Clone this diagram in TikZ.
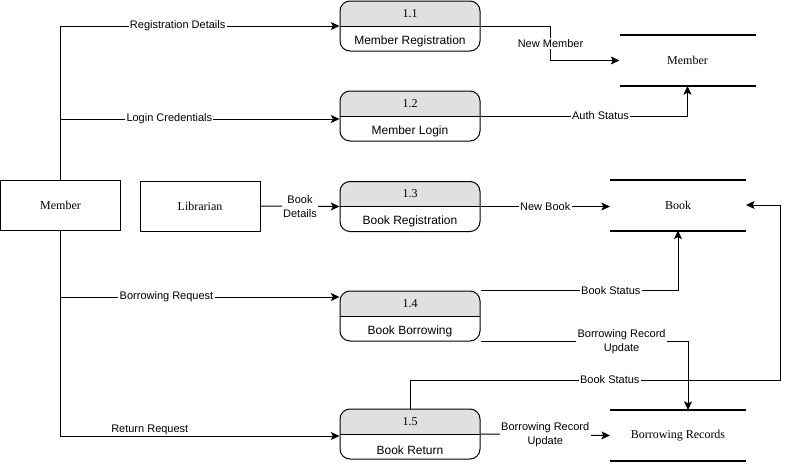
\documentclass[tikz,border=0pt]{standalone}
\usepackage{fontspec}
\setmainfont{Liberation Serif}
\setsansfont{Liberation Sans}
\usetikzlibrary{positioning, arrows.meta}
\definecolor{hdrgray}{HTML}{E0E0E0}

\begin{document}
\begin{tikzpicture}[x=0.75pt,y=-0.75pt,line width=0.75pt,
	ent/.style={draw,minimum width=90pt,minimum height=37.5pt,font=\fontsize{9}{10}\selectfont},
	proc/.style={draw,rounded corners=7.5pt,minimum width=105pt,minimum height=37.5pt,
		path picture={\fill[hdrgray,sharp corners] (path picture bounding box.north west) rectangle (path picture bounding box.east);
			\draw[sharp corners] (path picture bounding box.west) -- (path picture bounding box.east);}},
	pnum/.style={font=\fontsize{9}{10}\selectfont},
	pname/.style={font=\sffamily\fontsize{9}{10}\selectfont},
	store/.style={minimum width=101.25pt,minimum height=37.5pt,font=\fontsize{9}{10}\selectfont},
	storeline/.style={line width=1.5pt},
	lbl/.style={fill=white,inner sep=1pt,font=\sffamily\fontsize{8.25}{10.5}\selectfont,align=center},
	flow/.style={-{Stealth[length=6.5pt,width=6pt,inset=1.5pt]}}]
	\useasboundingbox (0,0) rectangle (790,464);

	% external entities
	\node (me) at (60.5,205) [ent] {Member};
	\node (li) at (200,206) [ent] {Librarian};

	% processes
	\node (p11) at (410,26) [proc] {};
	\node (p12) at (410,116) [proc] {};
	\node (p13) at (410,206.5) [proc] {};
	\node (p14) at (410,316) [proc] {};
	\node (p15) at (410,434) [proc] {};

	\node[pnum] (p11num) [node distance=3pt,below=of p11.north] {1.1};
	\node[pnum] (p12num) [node distance=3pt,below=of p12.north] {1.2};
	\node[pnum] (p13num) [node distance=3pt,below=of p13.north] {1.3};
	\node[pnum] (p14num) [node distance=3pt,below=of p14.north] {1.4};
	\node[pnum] (p15num) [node distance=3pt,below=of p15.north] {1.5};

	\node[pname] (p11name) [node distance=0pt,above=of p11.south] {Member Registration};
	\node[pname] (p12name) [node distance=0pt,above=of p12.south] {Member Login};
	\node[pname] (p13name) [node distance=0pt,above=of p13.south] {Book Registration};
	\node[pname] (p14name) [node distance=0pt,above=of p14.south] {Book Borrowing};
	\node[pname] (p15name) [node distance=0pt,above=of p15.south] {Book Return};

	% data stores
	\node (ms) at (687.5,60.5) [store] {Member};
	\node (bs) at (678,205) [store] {Book};
	\node (br) at (678,435.5) [store] {Borrowing Records};
	\draw[storeline] (ms.north west) -- (ms.north east);
	\draw[storeline] (ms.south west) -- (ms.south east);
	\draw[storeline] (bs.north west) -- (bs.north east);
	\draw[storeline] (bs.south west) -- (bs.south east);
	\draw[storeline] (br.north west) -- (br.north east);
	\draw[storeline] (br.south west) -- (br.south east);

	% flows from the member
	\coordinate (mlogin) at (60.5,119);
	\coordinate (mborrow) at (60.5,297);
	\coordinate (mreturn) at (60.5,436);
	\draw[flow] (me.north) |- node[lbl,pos=0.71] {Registration Details} (p11.west);
	\draw[flow] (mlogin) -- node[lbl,pos=0.39] {Login Credentials} (mlogin -| p12.west);
	\draw[flow] (mborrow) -- node[lbl,pos=0.38] {Borrowing Request} (mborrow -| p14.west);
	\draw[flow] (me.south) |- node[lbl,pos=0.66,yshift=4.5pt] {Return Request} (mreturn -| p15.west);
	\draw[flow] (li.east) -- node[lbl] {Book\\Details} (p13.west);

	% flows to the stores
	\draw[flow] (p11.east) -- ++(70,0) |- node[lbl,pos=0.25] {New Member} (ms.west);
	\draw[flow] (p12.east) -| node[lbl,pos=0.29] {Auth Status} (ms.south);
	\draw[flow] (p13.east) -- node[lbl] {New Book} (p13.east -| bs.west);
	\draw[flow] (p14.north east) -| node[lbl,pos=0.33] {Book Status} (bs.south);
	\draw[flow] (p14.south east) -| node[lbl,pos=0.34] {Borrowing Record\\Update} ([xshift=7.5pt]br.north);
	\coordinate (retbend) at (780,380);
	\draw[flow] (p15.north) |- node[lbl,pos=0.77] {Book Status} (retbend) |- (bs.east);
	\draw[flow] (p15.east) -- node[lbl] {Borrowing Record\\Update} (br.west);
\end{tikzpicture}
\end{document}
